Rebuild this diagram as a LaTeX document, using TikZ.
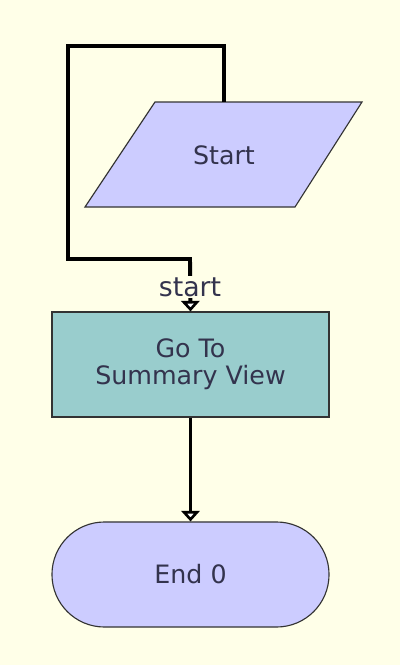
\documentclass[tikz,border=0pt]{standalone}
\usepackage{fontspec}
\setmainfont{DejaVu Sans}
\usetikzlibrary{shapes.misc,arrows.meta}
\definecolor{bgyellow}{HTML}{FFFFE8}
\definecolor{lavender}{HTML}{CCCCFF}
\definecolor{tealbox}{HTML}{99CDCD}
\definecolor{inktext}{HTML}{33334D}
\tikzset{
	shapebase/.style={draw=black!80,line width=0.8pt,text=inktext,align=center,
		font=\fontsize{18}{19.5}\selectfont,minimum width=6.925cm,minimum height=2.625cm,inner sep=0pt},
	startshape/.style={shapebase,draw=none,minimum width=5.2cm},
	actionbox/.style={shapebase,rectangle,fill=tealbox},
	endshape/.style={shapebase,rounded rectangle,fill=lavender},
	flow/.style={line width=2.8pt,black,-{Triangle[open,fill=white,length=7.5pt,width=13pt,line width=2pt]}},
}
\begin{document}
\begin{tikzpicture}[x=0.025cm,y=-0.025cm]
	
	\fill[bgyellow](0,0) rectangle (400,665);
	\useasboundingbox (0,0) rectangle (400,665);
	
	% parallelogram for the start shape
	\draw[draw=black!80,line width=0.8pt,fill=lavender](155,102)--(362,102)--(295,207)--(85,207)--cycle;
	\node[startshape] (startnode) at (224,155) {Start};
	\node[actionbox] (gotobox) at (190.5,364.5) {Go To\\Summary View};
	\node[endshape] (endnode) at (190.5,574.5) {End 0};
	
	\coordinate (loopa) at (224,46);
	\coordinate (loopb) at (68,46);
	\coordinate (loopc) at (68,259);
	\coordinate (loopd) at (190,259);
	
	\draw[flow][line join=miter](startnode.north)--(loopa)--(loopb)--(loopc)--(loopd)--(gotobox.north);
	\node[fill=bgyellow,inner sep=1pt,text=inktext,font=\fontsize{19}{20}\selectfont] (startlbl) at (190,287) {start};
	
	\draw[flow](gotobox.south)--(endnode.north);
	\end{tikzpicture}
\end{document}
